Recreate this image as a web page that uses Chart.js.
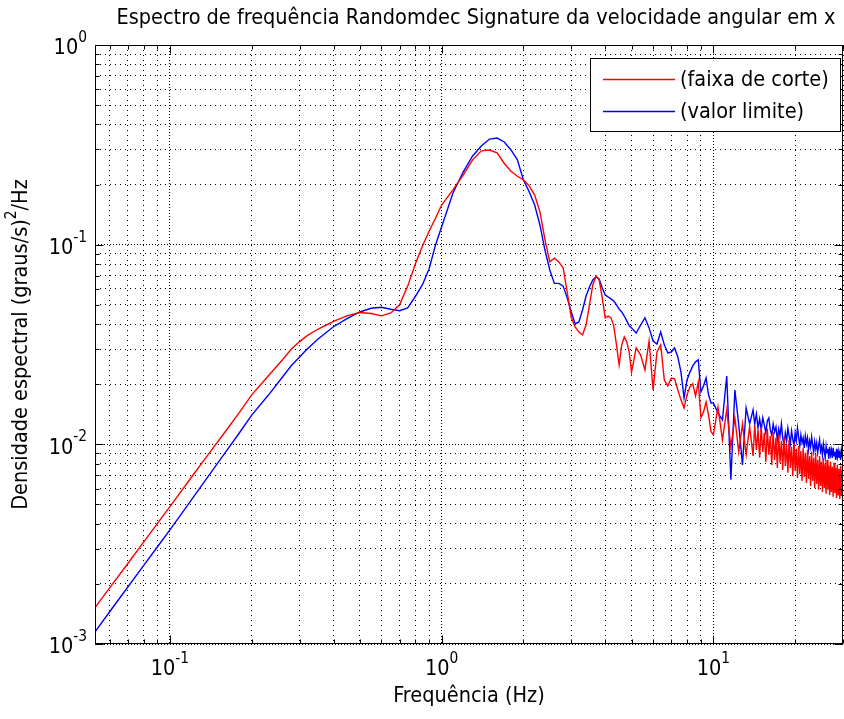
<!DOCTYPE html>
<html>
<head>
<meta charset="utf-8">
<script src="https://cdn.jsdelivr.net/npm/chart.js@4.4.1/dist/chart.umd.min.js"></script>
<style>
  html, body { margin: 0; padding: 0; background: #fff; }
</style>
</head>
<body>
<canvas id="psd" width="844" height="719"></canvas>
<script>
// Frequency grid (Hz) shared by both spectra
const freq = [
  0.053, 0.06, 0.07, 0.08, 0.09, 0.1, 0.12, 0.14, 0.16, 0.18, 0.2, 0.23, 0.26, 0.28, 0.3, 0.32, 0.35, 0.4, 0.45, 0.5,
  0.55, 0.6, 0.65, 0.7, 0.75, 0.8, 0.85, 0.9, 0.95, 1.0, 1.1, 1.2, 1.3, 1.4, 1.5, 1.6, 1.7, 1.8, 1.9,
  2.0, 2.1, 2.2, 2.3, 2.4, 2.5, 2.6, 2.7, 2.8, 2.9,
  3.0, 3.1, 3.2, 3.3, 3.4, 3.5, 3.6, 3.7, 3.8, 3.9, 4.0, 4.1, 4.2, 4.3, 4.4, 4.5, 4.6, 4.7, 4.8, 4.9,
  5.0, 5.2, 5.4, 5.6, 5.8, 6.0, 6.2, 6.4, 6.6, 6.8, 7.0, 7.2, 7.4, 7.6, 7.8, 8.0, 8.2, 8.4, 8.6, 8.8,
  9.0, 9.2, 9.4, 9.6, 9.8,
  10, 10.4, 10.8, 11.2, 11.6, 12, 12.4, 12.8, 13.2, 13.6,
  14, 14.2, 14.4, 14.6, 14.8, 15, 15.2, 15.4, 15.6, 15.8, 16, 16.2, 16.4, 16.6, 16.8,
  17, 17.2, 17.4, 17.6, 17.8, 18, 18.2, 18.4, 18.6, 18.8, 19, 19.2, 19.4, 19.6, 19.8,
  20, 20.2, 20.4, 20.6, 20.8, 21, 21.2, 21.4, 21.6, 21.8, 22, 22.2, 22.4, 22.6, 22.8,
  23, 23.2, 23.4, 23.6, 23.8, 24, 24.2, 24.4, 24.6, 24.8, 25, 25.2, 25.4, 25.6, 25.8,
  26, 26.2, 26.4, 26.6, 26.8, 27, 27.2, 27.4, 27.6, 27.8, 28, 28.2, 28.4, 28.6, 28.8,
  29, 29.2, 29.4, 29.6, 29.8, 30
];

// PSD (graus/s)^2/Hz - cut-off band
const faixaCorte = [
  0.00152, 0.00191, 0.00253, 0.00324, 0.00402, 0.00488, 0.00684, 0.00909, 0.0116, 0.0144, 0.0177, 0.0220, 0.0266, 0.0300, 0.0327, 0.0350, 0.0377, 0.0413, 0.0441, 0.0457,
  0.0452, 0.0440, 0.0455, 0.0500, 0.0620, 0.0800, 0.0985, 0.117, 0.136, 0.158, 0.188, 0.223, 0.266, 0.295, 0.298, 0.288, 0.255, 0.233, 0.220,
  0.211, 0.197, 0.177, 0.146, 0.106, 0.082, 0.0855, 0.082, 0.0765, 0.0576,
  0.0430, 0.0387, 0.0365, 0.0353, 0.0396, 0.0499, 0.0628, 0.0697, 0.0666, 0.0541, 0.0430, 0.0439, 0.0430, 0.0392, 0.0315, 0.0250, 0.0315, 0.0345, 0.0326, 0.0290,
  0.0230, 0.0304, 0.0280, 0.0236, 0.0329, 0.0187, 0.0290, 0.0315, 0.0210, 0.0196, 0.0215, 0.0213, 0.0187, 0.0167, 0.0152, 0.0177, 0.0194, 0.0201, 0.0175, 0.0205,
  0.0136, 0.0145, 0.0163, 0.01405, 0.0116,
  0.01115, 0.0154, 0.01053, 0.01488, 0.00971, 0.01357, 0.00917, 0.01266, 0.00886, 0.01223,
  0.00875, 0.01251, 0.00938, 0.01181, 0.00856, 0.01222, 0.00917, 0.01141, 0.00817, 0.01195, 0.00886, 0.01102, 0.00789, 0.01154, 0.00836,
  0.01077, 0.00762, 0.01115, 0.00808, 0.01041, 0.00745, 0.0109, 0.0078, 0.01005, 0.0072, 0.01053, 0.00762, 0.00971, 0.00695, 0.01017,
  0.00736, 0.00949, 0.00679, 0.00982, 0.00711, 0.00927, 0.00656, 0.0096, 0.00687, 0.00906, 0.00641, 0.00938, 0.00671, 0.00875, 0.00619,
  0.00917, 0.00656, 0.00856, 0.00605, 0.00896, 0.00634, 0.00836, 0.00592, 0.00875, 0.00619, 0.00817, 0.00578, 0.00856, 0.00605, 0.00798,
  0.00565, 0.00836, 0.00592, 0.0078, 0.00558, 0.00817, 0.00578, 0.00771, 0.00546, 0.00808, 0.00571, 0.00762, 0.00539, 0.00789, 0.00558,
  0.00754, 0.00533, 0.0078, 0.00552, 0.00745, 0.00539
];

// PSD (graus/s)^2/Hz - limit value
const valorLimite = [
  0.00115, 0.00145, 0.00193, 0.00247, 0.00307, 0.00373, 0.00527, 0.00707, 0.00911, 0.0114, 0.0140, 0.0176, 0.0218, 0.0248, 0.0274, 0.0300, 0.0336, 0.0388, 0.0427, 0.0460,
  0.0480, 0.0486, 0.0475, 0.0467, 0.0482, 0.0550, 0.0630, 0.0760, 0.100, 0.123, 0.181, 0.231, 0.278, 0.312, 0.338, 0.342, 0.327, 0.298, 0.266,
  0.211, 0.184, 0.158, 0.1255, 0.094, 0.0747, 0.0640, 0.0640, 0.0620, 0.0540,
  0.0460, 0.0401, 0.0410, 0.0471, 0.0553, 0.0614, 0.0666, 0.0689, 0.0673, 0.0607, 0.0560, 0.0547, 0.0535, 0.0522, 0.0499, 0.0476, 0.0460, 0.0439, 0.0415, 0.0392,
  0.0383, 0.0361, 0.0396, 0.0430, 0.0383, 0.0329, 0.0318, 0.0365, 0.0315, 0.0287, 0.0290, 0.0304, 0.0274, 0.0230, 0.0171, 0.0210, 0.0230, 0.0247, 0.0259, 0.0265,
  0.0183, 0.0196, 0.0215, 0.0177, 0.0161,
  0.01613, 0.01438, 0.01326, 0.0220, 0.00664, 0.01873, 0.01252, 0.00789, 0.01522, 0.01266,
  0.01487, 0.01265, 0.0142, 0.01208, 0.0134, 0.01181, 0.01356, 0.01251, 0.01141, 0.0131, 0.01356, 0.01181, 0.01115, 0.01265, 0.01154,
  0.01222, 0.01053, 0.01195, 0.01102, 0.01265, 0.01077, 0.00994, 0.01141, 0.01041, 0.01208, 0.01102, 0.01005, 0.01167, 0.01065, 0.00982,
  0.01141, 0.01041, 0.01208, 0.0109, 0.00982, 0.01115, 0.01017, 0.01077, 0.0096, 0.01102, 0.01005, 0.01077, 0.00938, 0.01041, 0.00971,
  0.0109, 0.00994, 0.00917, 0.01029, 0.00949, 0.01017, 0.00906, 0.00982, 0.01053, 0.00927, 0.00971, 0.00886, 0.01005, 0.00927, 0.00856,
  0.00982, 0.00906, 0.00949, 0.00846, 0.00971, 0.00886, 0.00938, 0.00856, 0.0096, 0.00875, 0.00917, 0.00836, 0.00949, 0.00865, 0.00927,
  0.00856, 0.00906, 0.00836, 0.00938, 0.00875, 0.00886
];

const seriesNames = ['(faixa de corte)', '(valor limite)'];
const xLabelTicks = [0.1, 1, 10];
const yLabelTicks = [0.001, 0.01, 0.1, 1];

const titleText = 'Espectro de frequência Randomdec Signature da velocidade angular em x';
const xTitle = 'Frequência (Hz)';
const yTitle = ['Densidade espectral (graus/s)', '2', '/Hz'];

const FONT = '"Liberation Sans Narrow", "Arial Narrow", "DejaVu Sans Condensed", sans-serif';

// 1..9 x 10^n ticks inside [min, max]
function logTicks(min, max) {
  const out = [];
  for (let e = Math.floor(Math.log10(min)); e <= Math.ceil(Math.log10(max)); e++) {
    for (let m = 1; m < 10; m++) {
      const v = m * Math.pow(10, e);
      if (v >= min * 0.9999 && v <= max * 1.0001) out.push({ value: v });
    }
  }
  return out;
}

function isDecade(v) {
  const l = Math.log10(v);
  return Math.abs(l - Math.round(l)) < 1e-9;
}

function gridDash(ctx) {
  return ctx.tick && isDecade(ctx.tick.value) ? [1, 2] : [1, 4];
}

function toPoints(values) {
  return freq.map((f, i) => ({ x: f, y: values[i] }));
}

// text squeezed/stretched horizontally by a common factor
let hScale = 1;
function drawText(ctx, text, x, y, align) {
  ctx.save();
  ctx.translate(x, y);
  ctx.scale(hScale, 1);
  ctx.textAlign = align || 'left';
  ctx.fillText(text, 0, 0);
  ctx.restore();
  return ctx.measureText(text).width * hScale;
}

function powLabel(ctx, exp, anchorX, midY, align) {
  const base = '10';
  ctx.font = '21px ' + FONT;
  const wb = ctx.measureText(base).width * hScale;
  ctx.font = '15px ' + FONT;
  const we = ctx.measureText(exp).width * hScale;
  const total = wb + we;
  const x0 = align === 'right' ? anchorX - total : anchorX - total / 2;
  ctx.font = '21px ' + FONT;
  ctx.textBaseline = 'middle';
  drawText(ctx, base, x0, midY);
  ctx.font = '15px ' + FONT;
  drawText(ctx, exp, x0 + wb, midY - 11);
}

const axesDecor = {
  id: 'axesDecor',
  afterDraw(chart) {
    const { ctx, chartArea: a, scales: { x, y } } = chart;
    const L = Math.round(a.left) + 0.5, R = Math.round(a.right) - 0.5;
    const T = Math.round(a.top) + 0.5, B = Math.round(a.bottom) - 0.5;
    ctx.save();
    ctx.strokeStyle = '#000';
    ctx.fillStyle = '#000';
    ctx.lineWidth = 1;

    // inward ticks on all four sides
    ctx.beginPath();
    x.ticks.forEach(t => {
      const px = Math.round(x.getPixelForValue(t.value)) + 0.5;
      const len = isDecade(t.value) ? 8 : 4;
      ctx.moveTo(px, B); ctx.lineTo(px, B - len);
      ctx.moveTo(px, T); ctx.lineTo(px, T + len);
    });
    y.ticks.forEach(t => {
      const py = Math.round(y.getPixelForValue(t.value)) + 0.5;
      const len = isDecade(t.value) ? 8 : 4;
      ctx.moveTo(L, py); ctx.lineTo(L + len, py);
      ctx.moveTo(R, py); ctx.lineTo(R - len, py);
    });
    ctx.stroke();
    ctx.strokeRect(L, T, R - L, B - T);

    // common horizontal scale taken from the title width
    ctx.font = '21px ' + FONT;
    hScale = 719 / ctx.measureText(titleText).width;

    ctx.textBaseline = 'middle';
    drawText(ctx, titleText, 476, 19, 'center');

    xLabelTicks.forEach(v => {
      powLabel(ctx, String(Math.round(Math.log10(v))), x.getPixelForValue(v), 670, 'center');
    });
    yLabelTicks.forEach(v => {
      powLabel(ctx, String(Math.round(Math.log10(v))), 87, y.getPixelForValue(v) + 4, 'right');
    });

    ctx.font = '21px ' + FONT;
    ctx.textBaseline = 'middle';
    drawText(ctx, xTitle, (a.left + a.right) / 2, 697, 'center');

    // rotated y title with superscript
    ctx.save();
    ctx.translate(22, (a.top + a.bottom) / 2);
    ctx.rotate(-Math.PI / 2);
    ctx.font = '21px ' + FONT;
    const w0 = ctx.measureText(yTitle[0]).width * hScale;
    const w2 = ctx.measureText(yTitle[2]).width * hScale;
    ctx.font = '15px ' + FONT;
    const w1 = ctx.measureText(yTitle[1]).width * hScale;
    let cx = -(w0 + w1 + w2) / 2;
    ctx.font = '21px ' + FONT;
    drawText(ctx, yTitle[0], cx, 0); cx += w0;
    ctx.font = '15px ' + FONT;
    drawText(ctx, yTitle[1], cx, -10); cx += w1;
    ctx.font = '21px ' + FONT;
    drawText(ctx, yTitle[2], cx, 0);
    ctx.restore();

    // legend box
    const lx = 590.5, ly = 58.5, lw = 250, lh = 73;
    ctx.fillStyle = '#fff';
    ctx.fillRect(lx, ly, lw, lh);
    ctx.strokeStyle = '#000';
    ctx.strokeRect(lx, ly, lw, lh);
    chart.data.datasets.forEach((ds, i) => {
      const ry = i === 0 ? 79.5 : 111.5;
      ctx.strokeStyle = ds.borderColor;
      ctx.lineWidth = 1.5;
      ctx.beginPath();
      ctx.moveTo(603, ry); ctx.lineTo(675, ry);
      ctx.stroke();
      ctx.fillStyle = '#000';
      ctx.font = '21px ' + FONT;
      ctx.textBaseline = 'middle';
      drawText(ctx, ds.label, 680, ry + 1);
    });
    ctx.restore();
  }
};

new Chart(document.getElementById('psd').getContext('2d'), {
  type: 'scatter',
  data: {
    datasets: [
      { label: seriesNames[0], data: toPoints(faixaCorte), borderColor: '#ff0000', backgroundColor: '#ff0000',
        showLine: true, borderWidth: 1.4, pointRadius: 0, tension: 0 },
      { label: seriesNames[1], data: toPoints(valorLimite), borderColor: '#0000ff', backgroundColor: '#0000ff',
        showLine: true, borderWidth: 1.4, pointRadius: 0, tension: 0 }
    ]
  },
  options: {
    responsive: false,
    animation: false,
    devicePixelRatio: 1,
    layout: { padding: { top: 45, right: 1, left: 0, bottom: 0 } },
    plugins: { legend: { display: false }, tooltip: { enabled: false }, title: { display: false } },
    scales: {
      x: {
        type: 'logarithmic', min: 0.053, max: 30,
        afterBuildTicks: s => { s.ticks = logTicks(s.min, s.max); },
        afterFit: s => { s.height = 75; },
        ticks: { display: false },
        grid: { color: '#000', lineWidth: 1, drawTicks: false },
        border: { display: false, dash: gridDash }
      },
      y: {
        type: 'logarithmic', min: 0.001, max: 1,
        afterBuildTicks: s => { s.ticks = logTicks(s.min, s.max); },
        afterFit: s => { s.width = 95; },
        ticks: { display: false },
        grid: { color: '#000', lineWidth: 1, drawTicks: false },
        border: { display: false, dash: gridDash }
      }
    }
  },
  plugins: [axesDecor]
});
</script>
</body>
</html>
